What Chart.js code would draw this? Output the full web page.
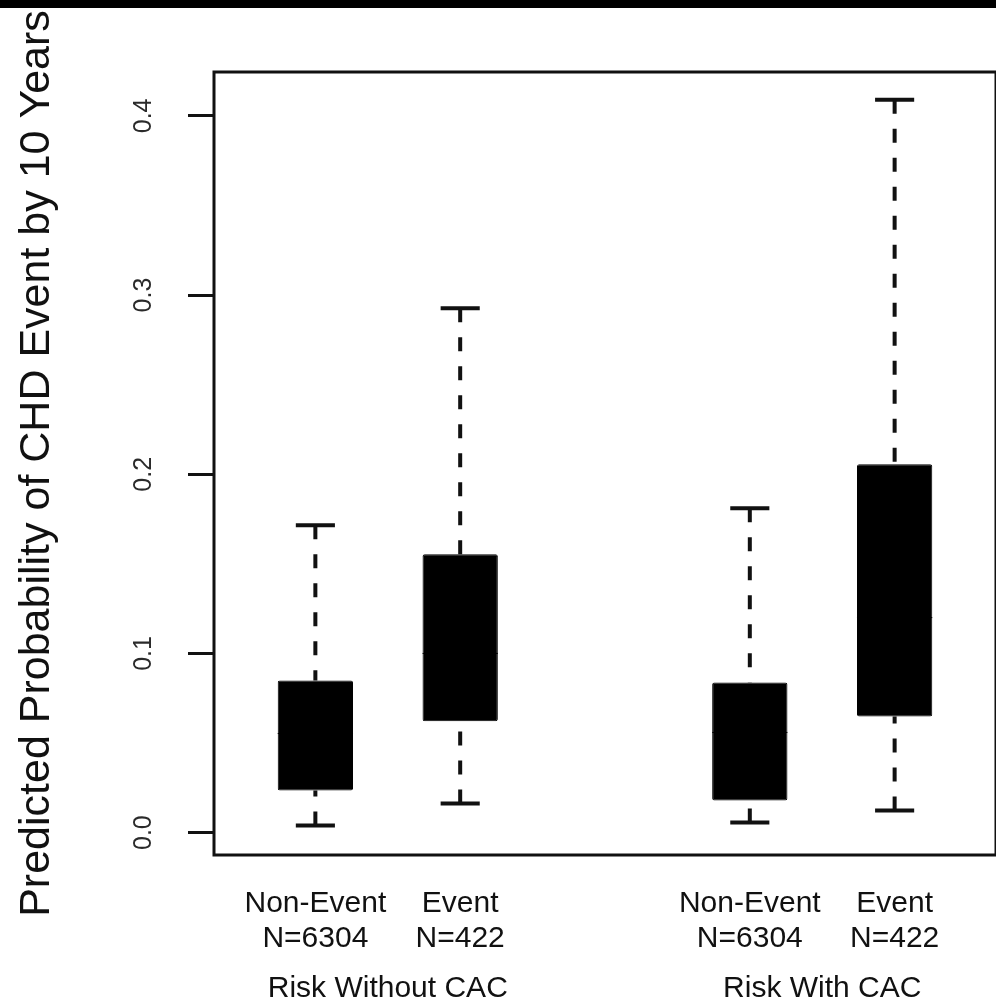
<!DOCTYPE html>
<html>
<head>
<meta charset="utf-8">
<script src="https://cdn.jsdelivr.net/npm/chart.js@4.4.1/dist/chart.umd.min.js"></script>
<style>
  html, body { margin: 0; padding: 0; background: #fff; }
  #wrap { position: relative; width: 996px; height: 1002px; overflow: hidden; }
  #topband { position: absolute; left: 0; top: 0; width: 996px; height: 8px; background: #000; }
  canvas { position: absolute; left: 0; top: 0; }
</style>
</head>
<body>
<div id="wrap">
  <canvas id="boxChart" width="996" height="1002"></canvas>
  <div id="topband"></div>
</div>
<script>
// Boxes placed like R's boxplot(at = c(1, 2, 4, 5))
const positions = [1, 2, 4, 5];
const tickLabels = [
  ['Non-Event', 'N=6304'],
  ['Event', 'N=422'],
  ['Non-Event', 'N=6304'],
  ['Event', 'N=422']
];
const groupCenters = [1.5, 4.5];
const groupLabels = ['Risk Without CAC', 'Risk With CAC'];

// Box statistics
const whiskerLow = [0.0039, 0.0163, 0.0056, 0.0123];
const q1 = [0.0235, 0.0622, 0.0179, 0.0648];
const median = [0.0553, 0.1000, 0.0559, 0.1200];
const q3 = [0.0849, 0.1553, 0.0838, 0.2056];
const whiskerHigh = [0.1715, 0.2927, 0.1810, 0.4090];

const yTicks = [0.0, 0.1, 0.2, 0.3, 0.4];
const yTickLabels = ['0.0', '0.1', '0.2', '0.3', '0.4'];
const yTitle = 'Predicted Probability of CHD Event by 10 Years';
const xRange = [0.3, 5.7];
const yRange = [-0.0125, 0.4245];

const FONT = "'Liberation Sans', Arial, sans-serif";
const INK = '#111';
const capHalf = 0.135;

// segments séparés par un point nul
function segments(pairs) {
  const out = [];
  pairs.forEach(([a, b]) => {
    out.push(a, b, { x: b.x, y: null });
  });
  return out;
}

const upperWhiskers = segments(positions.map((p, i) => [{ x: p, y: whiskerHigh[i] }, { x: p, y: q3[i] }]));
const lowerWhiskers = segments(positions.map((p, i) => [{ x: p, y: whiskerLow[i] }, { x: p, y: q1[i] }]));
const caps = segments(positions.flatMap((p, i) => [
  [{ x: p - capHalf, y: whiskerHigh[i] }, { x: p + capHalf, y: whiskerHigh[i] }],
  [{ x: p - capHalf, y: whiskerLow[i] }, { x: p + capHalf, y: whiskerLow[i] }]
]));
const medians = segments(positions.map((p, i) => [{ x: p - 0.26, y: median[i] }, { x: p + 0.26, y: median[i] }]));

const lineStyle = { type: 'line', pointRadius: 0, spanGaps: false, fill: false, tension: 0 };

// cadre, étiquettes de l'axe Y tournées et libellés de groupes
const decorations = {
  id: 'decorations',
  afterDatasetsDraw(chart) {
    const { ctx, chartArea: a, scales: { x, y } } = chart;
    ctx.save();
    ctx.strokeStyle = INK;
    ctx.lineWidth = 3;
    ctx.strokeRect(a.left, a.top, a.right - a.left, a.bottom - a.top);

    ctx.fillStyle = '#2a2a2a';
    ctx.font = `25px ${FONT}`;
    ctx.textAlign = 'center';
    ctx.textBaseline = 'middle';
    yTicks.forEach((v, i) => {
      ctx.save();
      ctx.translate(a.left - 70, y.getPixelForValue(v));
      ctx.rotate(-Math.PI / 2);
      ctx.fillText(yTickLabels[i], 0, 0);
      ctx.restore();
    });

    ctx.fillStyle = INK;
    ctx.font = `30px ${FONT}`;
    groupCenters.forEach((c, i) => {
      ctx.fillText(groupLabels[i], x.getPixelForValue(c), a.bottom + 134);
    });
    ctx.restore();
  }
};

new Chart(document.getElementById('boxChart'), {
  type: 'bar',
  data: {
    datasets: [
      {
        type: 'bar',
        data: positions.map((p, i) => ({ x: p, y: [q1[i], q3[i]] })),
        backgroundColor: '#000',
        borderColor: '#000',
        borderWidth: 1,
        borderSkipped: false,
        borderRadius: 2,
        categoryPercentage: 1,
        barPercentage: 0.52
      },
      { ...lineStyle, data: upperWhiskers, borderColor: INK, borderWidth: 4, borderDash: [14, 15] },
      { ...lineStyle, data: lowerWhiskers, borderColor: INK, borderWidth: 4, borderDash: [14, 15] },
      { ...lineStyle, data: caps, borderColor: INK, borderWidth: 4 },
      { ...lineStyle, data: medians, borderColor: '#0a0a0a', borderWidth: 1 }
    ]
  },
  options: {
    responsive: false,
    animation: false,
    layout: { padding: { top: 72, left: 0, right: 0, bottom: 0 } },
    plugins: { legend: { display: false }, tooltip: { enabled: false } },
    scales: {
      x: {
        type: 'linear',
        offset: false,
        min: xRange[0],
        max: xRange[1],
        afterBuildTicks: s => { s.ticks = positions.map(v => ({ value: v })); },
        afterFit: s => { s.height = 147; },
        grid: { display: false, offset: false },
        border: { display: false },
        ticks: {
          autoSkip: false,
          minRotation: 0,
          maxRotation: 0,
          padding: 23,
          color: INK,
          font: { family: FONT, size: 30, lineHeight: 1.17 },
          callback: v => tickLabels[positions.indexOf(v)]
        }
      },
      y: {
        min: yRange[0],
        max: yRange[1],
        afterBuildTicks: s => { s.ticks = yTicks.map(v => ({ value: v })); },
        afterFit: s => { s.width = 214; },
        grid: { drawOnChartArea: false, drawTicks: true, tickLength: 26, tickWidth: 3, tickColor: INK },
        border: { display: false },
        ticks: { display: false },
        title: {
          display: true,
          text: yTitle,
          color: INK,
          font: { family: FONT, size: 43 },
          padding: { top: 11, bottom: 0 }
        }
      }
    }
  },
  plugins: [decorations]
});
</script>
</body>
</html>
